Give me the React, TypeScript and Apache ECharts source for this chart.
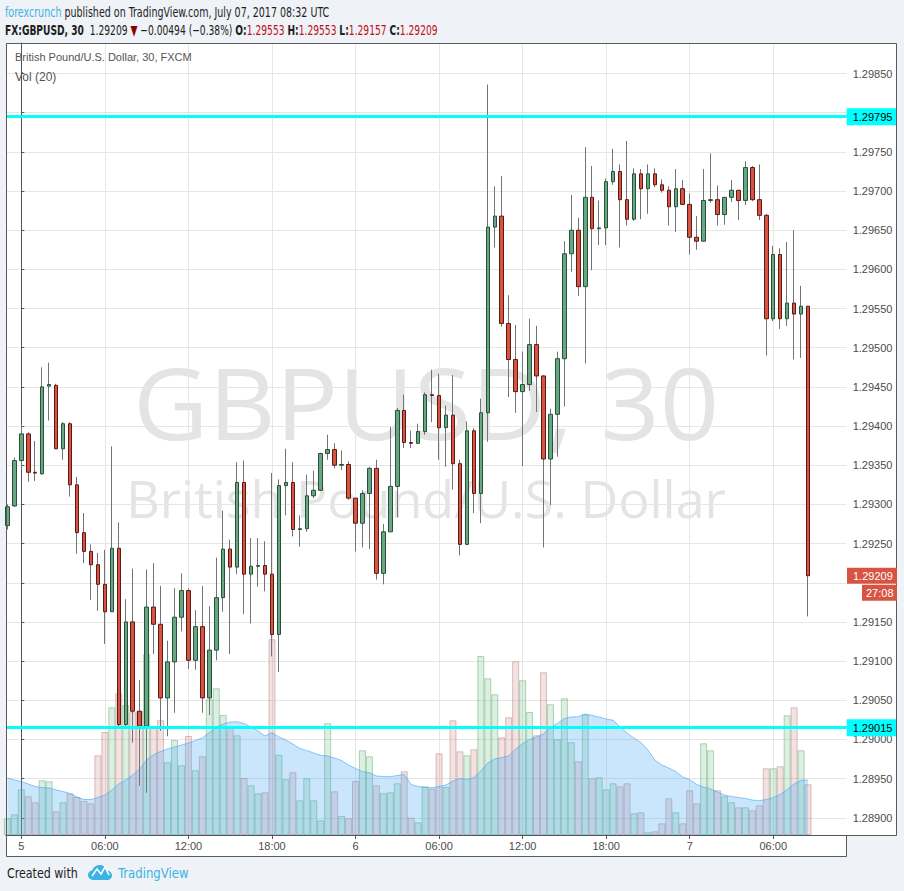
import React, { useEffect, useRef } from "react";
import * as echarts from "echarts";

// candle index: 0 = Jul 5 00:00 UTC, one step = 30 minutes
const firstIndex = -2;

const opens = [
  1.29273, 1.29298, 1.29356, 1.2939, 1.29341, 1.29339, 1.29451, 1.29452, 1.29371, 1.29403,
  1.29325, 1.29264, 1.2924, 1.29223, 1.29198, 1.29163, 1.29244, 1.29019, 1.2915, 1.29036,
  1.29017, 1.29169, 1.29147, 1.29053, 1.29099, 1.29156, 1.2919, 1.29101, 1.29144, 1.29053,
  1.29114, 1.29181, 1.29243, 1.2922, 1.29328, 1.29211, 1.29221, 1.29222, 1.29211, 1.29134,
  1.29324, 1.29328, 1.29268, 1.29269, 1.29311, 1.29318, 1.29365, 1.2937, 1.2935, 1.29351,
  1.29308, 1.29276, 1.29314, 1.29346, 1.29212, 1.29265, 1.29323, 1.2942, 1.29379, 1.29378,
  1.29393, 1.2944, 1.29439, 1.29398, 1.29414, 1.29352, 1.29249, 1.29394, 1.29314, 1.29417,
  1.29654, 1.29668, 1.29531, 1.29485, 1.29444, 1.29453, 1.29504, 1.29464, 1.29358, 1.29415,
  1.29486, 1.2962, 1.2965, 1.29578, 1.29692, 1.29652, 1.29653, 1.29712, 1.29725, 1.29689,
  1.29664, 1.29722, 1.29703, 1.29722, 1.29708, 1.29701, 1.2968, 1.29703, 1.29683, 1.29641,
  1.29636, 1.29688, 1.29689, 1.2967, 1.29692, 1.29701, 1.29688, 1.2973, 1.29689, 1.29669,
  1.29537, 1.29619, 1.29537, 1.29557, 1.29543, 1.29553,
];
const highs = [
  1.293, 1.2936, 1.29402, 1.29392, 1.29381, 1.29475, 1.29481, 1.29454, 1.29405, 1.29405,
  1.29335, 1.29289, 1.29249, 1.29238, 1.29242, 1.29374, 1.29277, 1.29179, 1.29218, 1.29076,
  1.29217, 1.29225, 1.29196, 1.29126, 1.29193, 1.29212, 1.29193, 1.29165, 1.29196, 1.2917,
  1.29232, 1.29292, 1.29255, 1.29354, 1.29356, 1.29257, 1.29257, 1.29253, 1.2934, 1.29332,
  1.29371, 1.29354, 1.29286, 1.29338, 1.29343, 1.29366, 1.29389, 1.29378, 1.29369, 1.29355,
  1.29308, 1.29318, 1.29348, 1.29357, 1.29275, 1.29399, 1.29423, 1.2944, 1.29394, 1.29403,
  1.29443, 1.29472, 1.29467, 1.29426, 1.29465, 1.29357, 1.29406, 1.29397, 1.29435, 1.29836,
  1.29706, 1.29719, 1.29567, 1.29529, 1.29495, 1.29537, 1.29528, 1.29465, 1.29422, 1.29495,
  1.29636, 1.29695, 1.29666, 1.29756, 1.29732, 1.29688, 1.29716, 1.29754, 1.29734, 1.29764,
  1.29729, 1.29728, 1.29734, 1.29729, 1.29715, 1.29706, 1.29728, 1.29714, 1.29697, 1.29668,
  1.29728, 1.29748, 1.29707, 1.29692, 1.29714, 1.29701, 1.29738, 1.29732, 1.29734, 1.29671,
  1.2963, 1.29627, 1.29635, 1.2965, 1.29579, 1.29553,
];
const lows = [
  1.29268, 1.29297, 1.29344, 1.29329, 1.2933, 1.29338, 1.29407, 1.29371, 1.29357, 1.2931,
  1.29237, 1.29225, 1.29178, 1.29164, 1.29122, 1.29163, 1.29016, 1.29017, 1.28996, 1.28941,
  1.28932, 1.29109, 1.29011, 1.29004, 1.29034, 1.29138, 1.2909, 1.29089, 1.29034, 1.29031,
  1.29101, 1.29163, 1.29109, 1.29211, 1.2916, 1.29148, 1.29195, 1.29189, 1.29106, 1.29086,
  1.29286, 1.29259, 1.29246, 1.29265, 1.29308, 1.29317, 1.29357, 1.29346, 1.29344, 1.29306,
  1.2924, 1.29245, 1.29243, 1.29204, 1.29198, 1.29265, 1.29284, 1.29372, 1.29372, 1.29377,
  1.29389, 1.29405, 1.29357, 1.29348, 1.29319, 1.29235, 1.29249, 1.29289, 1.29276, 1.2938,
  1.29628, 1.29527, 1.29437, 1.29417, 1.29349, 1.29445, 1.29418, 1.29245, 1.29299, 1.29361,
  1.29425, 1.29597, 1.29566, 1.2948, 1.29599, 1.29631, 1.29631, 1.29708, 1.29628, 1.29656,
  1.29662, 1.29664, 1.29671, 1.29705, 1.29698, 1.29656, 1.29648, 1.29683, 1.29619, 1.29625,
  1.29636, 1.29685, 1.29656, 1.29657, 1.29686, 1.29663, 1.29682, 1.29687, 1.29663, 1.2949,
  1.29534, 1.29524, 1.29528, 1.29485, 1.29487, 1.29157,
];
const closes = [
  1.29297, 1.29356, 1.2939, 1.29341, 1.2934, 1.2945, 1.29453, 1.29371, 1.29403, 1.29325,
  1.29264, 1.2924, 1.29223, 1.29198, 1.29163, 1.29244, 1.29019, 1.2915, 1.29036, 1.29017,
  1.29169, 1.29147, 1.29053, 1.29099, 1.29156, 1.2919, 1.29101, 1.29144, 1.29053, 1.29114,
  1.29181, 1.29243, 1.2922, 1.29328, 1.29211, 1.29221, 1.29222, 1.29211, 1.29134, 1.29324,
  1.29328, 1.29268, 1.29269, 1.29311, 1.29318, 1.29365, 1.2937, 1.2935, 1.29351, 1.29308,
  1.29276, 1.29314, 1.29346, 1.29212, 1.29265, 1.29323, 1.2942, 1.29379, 1.29378, 1.29393,
  1.2944, 1.29439, 1.29398, 1.29414, 1.29352, 1.29249, 1.29394, 1.29314, 1.29417, 1.29654,
  1.29668, 1.29531, 1.29485, 1.29444, 1.29453, 1.29504, 1.29464, 1.29358, 1.29415, 1.29486,
  1.2962, 1.2965, 1.29578, 1.29692, 1.29652, 1.29653, 1.29712, 1.29725, 1.29689, 1.29664,
  1.29722, 1.29703, 1.29722, 1.29708, 1.29701, 1.2968, 1.29703, 1.29683, 1.29641, 1.29636,
  1.29688, 1.29689, 1.2967, 1.29692, 1.29701, 1.29688, 1.2973, 1.29689, 1.29669, 1.29537,
  1.29619, 1.29537, 1.29557, 1.29543, 1.29553, 1.29209,
];
// volume (chart units) and its 20-period average
const volumes = [
  16.7, 20.7, 45.7, 38.7, 32.7, 54.7, 53.7, 23.7, 32.7, 41.7,
  38, 34, 31.7, 79.7, 103, 127.7, 141.7, 130, 122.7, 124,
  180.7, 108.7, 114.7, 72.7, 95, 69.7, 99, 64.7, 78.7, 135.7,
  146.7, 120, 108, 99.7, 57, 49.7, 41.7, 42.7, 195.7, 80.3,
  55.7, 62.7, 34.7, 56.7, 34.7, 14.7, 111.7, 43.7, 19, 16.7,
  54, 84.7, 78.7, 49.7, 41.7, 42.7, 51.7, 63.7, 17.3, 12.7,
  48.7, 46.3, 81.7, 48, 114.7, 83.7, 79.7, 85.7, 179, 156.7,
  140.7, 97.7, 117.7, 173.7, 154.7, 123, 99.7, 162.7, 130.7, 95.7,
  136.7, 92.7, 73.7, 120.7, 56.7, 57.7, 45.7, 51.7, 48.7, 51.7,
  21.7, 22.7, 2.7, 3.7, 11.7, 36.7, 22.7, 11.7, 44.7, 31.7,
  91.7, 84.7, 44.7, 38.7, 32.7, 27.7, 27.7, 24.7, 29.7, 66.7,
  66.7, 68.7, 119.7, 127.7, 84.7, 50.7,
];
const volumeMA = [
  57, 55, 53.5, 51, 48.5, 47.5, 47, 45, 43.5, 41.5,
  38, 35.5, 35.5, 37.5, 40, 45, 51, 55, 60, 66,
  75, 80.5, 83.5, 86, 88, 90, 92, 94.5, 97, 102.5,
  108, 111, 113, 113.3, 111.5, 108, 104, 99, 102.3, 98,
  95, 91, 86.5, 84.5, 82, 79.7, 79, 77, 74.5, 70,
  66.5, 63.5, 62.3, 59, 58.5, 58.3, 59.5, 60.5, 50.5, 48.5,
  47.5, 47.3, 48.5, 50, 54, 56.5, 55.5, 57.5, 64, 72,
  76, 77.5, 79, 86, 91.5, 95.5, 98, 101, 107.5, 111.5,
  116.5, 118, 118.3, 121, 119.5, 118, 116, 114.7, 108, 102,
  97, 92.5, 85, 75, 70, 67, 63.5, 58, 55.5, 50.5,
  48, 46, 43, 40, 38.5, 37.5, 36.5, 35, 34.3, 35.5,
  37.3, 40.7, 45.5, 51, 54.7, 55,
];

const xTickValues = [0, 12, 24, 36, 48, 60, 72, 84, 96, 108];
const xTickLabels = ["5", "06:00", "12:00", "18:00", "6", "06:00", "12:00", "18:00", "7", "06:00"];
const yTickValues = [
  1.289, 1.2895, 1.29, 1.2905, 1.291, 1.2915, 1.292, 1.2925, 1.293, 1.2935,
  1.294, 1.2945, 1.295, 1.2955, 1.296, 1.2965, 1.297, 1.2975, 1.298, 1.2985,
];
const yLabelValues = [
  1.289, 1.2895, 1.29, 1.2905, 1.291, 1.2915, 1.2925, 1.293, 1.2935,
  1.294, 1.2945, 1.295, 1.2955, 1.296, 1.2965, 1.297, 1.2975, 1.2985,
];
const levelLines = [1.29795, 1.29015];
const lastClose = 1.29209;
const countdown = "27:08";

const cloudPath =
  "M6 15 C2.7 15 0 12.8 0 10 C0 7.6 1.9 5.6 4.4 5.2 C5.4 2.2 8.3 0 11.8 0 C15.4 0 18.4 2.4 19.2 5.6 C21.9 5.9 24 8 24 10.5 C24 13 21.8 15 19 15 Z";
echarts.graphic.registerShape("tvcloud", echarts.graphic.extendPath(cloudPath, {}));

const NARROW = "'Liberation Sans Narrow', 'DejaVu Sans Condensed', sans-serif";
const SANS = "'Liberation Sans', Arial, sans-serif";
const WM = "'Open Sans', 'Liberation Sans', sans-serif";

function buildGraphic(yPx: number | null): any[] {
  const g: any[] = [
    { id: "bg1", type: "rect", z: -10, shape: { x: 6, y: 43, width: 891, height: 792 }, style: { fill: "#ffffff" } },
    { id: "bg2", type: "rect", z: -10, shape: { x: 6, y: 835, width: 841, height: 22 }, style: { fill: "#ffffff" } },
    {
      id: "wm1", type: "text", z: -5, x: 426, y: 402, scaleX: 1.05,
      style: {
        text: "GBPUSD, 30", fontSize: 99, lineHeight: 84, fontFamily: WM, fill: "#e4e4e4",
        align: "center", verticalAlign: "middle",
      },
    },
    {
      id: "wm2", type: "text", z: -5, x: 426, y: 497,
      style: {
        text: "British Pound/U.S. Dollar", fontSize: 52, lineHeight: 50, fontFamily: WM, fill: "#e4e4e4",
        align: "center", verticalAlign: "middle",
      },
    },
    {
      id: "frame", type: "polyline", z: 50,
      shape: { points: [[6.5, 43.5], [896.5, 43.5], [896.5, 835.5], [846.5, 835.5], [846.5, 856.5], [6.5, 856.5], [6.5, 43.5]] },
      style: { stroke: "#5a5a5a", lineWidth: 1, fill: null },
    },
    {
      id: "leg1", type: "text", z: 20, x: 15, y: 57,
      style: { text: "British Pound/U.S. Dollar, 30, FXCM", fontSize: 11, fontFamily: SANS, fill: "#555555", verticalAlign: "middle" },
    },
    {
      id: "leg2", type: "text", z: 20, x: 15, y: 77,
      style: { text: "Vol (20)", fontSize: 12, fontFamily: SANS, fill: "#555555", verticalAlign: "middle" },
    },
    {
      id: "hdr1", type: "text", z: 20, x: 5, y: 12, scaleX: 0.756,
      style: {
        text: "{a|forexcrunch} published on TradingView.com, July 07, 2017 08:32 UTC",
        fontSize: 14, fontFamily: NARROW, fill: "#1e1e1e", verticalAlign: "middle",
        rich: { a: { fill: "#3bb3e4", fontSize: 14, fontFamily: NARROW } },
      },
    },
    {
      id: "hdr2", type: "text", z: 20, x: 5, y: 30, scaleX: 0.725,
      style: {
        text: "{b|FX:GBPUSD, 30}  1.29209 {t|▼} −0.00494 (−0.38%) {b|O:}{r|1.29553} {b|H:}{r|1.29553} {b|L:}{r|1.29157} {b|C:}{r|1.29209}",
        fontSize: 14, fontFamily: NARROW, fill: "#1e1e1e", verticalAlign: "middle",
        rich: {
          b: { fontWeight: "bold", fill: "#1e1e1e", fontSize: 14, fontFamily: NARROW },
          r: { fill: "#c0111b", fontSize: 14, fontFamily: NARROW },
          t: { fill: "#8b0000", fontSize: 14, fontFamily: NARROW },
        },
      },
    },
    {
      id: "ft1", type: "text", z: 20, x: 7, y: 873, scaleX: 0.88,
      style: { text: "Created with", fontSize: 14, fontFamily: NARROW, fill: "#1e1e1e", verticalAlign: "middle" },
    },
    { id: "logo", type: "tvcloud", z: 20, x: 88, y: 865, style: { fill: "#3bb3e4" } },
    {
      id: "logoLine", type: "polyline", z: 21,
      shape: { points: [[92, 876], [97, 869], [101, 874], [105, 867], [109, 875]] },
      style: { stroke: "#ffffff", lineWidth: 1.6, fill: null },
    },
    {
      id: "ft2", type: "text", z: 20, x: 118, y: 873, scaleX: 0.93,
      style: { text: "TradingView", fontSize: 14, fontFamily: NARROW, fill: "#3bb3e4", verticalAlign: "middle" },
    },
  ];
  if (yPx != null) {
    g.push(
      { id: "pb1", type: "rect", z: 60, shape: { x: 847, y: yPx - 8, width: 50, height: 16 }, style: { fill: "#d75442" } },
      {
        id: "pt1", type: "text", z: 61, x: 853, y: yPx,
        style: { text: lastClose.toFixed(5), fontSize: 11, lineHeight: 12, fontFamily: SANS, fill: "#ffffff", verticalAlign: "middle" },
      },
      { id: "pb2", type: "rect", z: 60, shape: { x: 862, y: yPx + 9, width: 35, height: 16 }, style: { fill: "#d75442" } },
      {
        id: "pt2", type: "text", z: 61, x: 866, y: yPx + 17,
        style: { text: countdown, fontSize: 11, lineHeight: 12, fontFamily: SANS, fill: "#ffffff", verticalAlign: "middle" },
      }
    );
  }
  return g;
}

export default function App() {
  const ref = useRef<HTMLDivElement>(null);
  useEffect(() => {
    document.body.style.margin = "0";
    const chart = echarts.init(ref.current as HTMLDivElement, undefined, { renderer: "svg" });
    const wickData = opens.map((o, k) => [firstIndex + k, o, closes[k], lows[k], highs[k]]);
    const bodyData = opens.map((o, k) => [
      firstIndex + k, o, closes[k], Math.min(o, closes[k]), Math.max(o, closes[k]),
    ]);
    const volData = volumes.map((v, k) => {
      const up = closes[k] >= opens[k];
      return {
        value: [firstIndex + k, v],
        itemStyle: up
          ? { color: "rgba(100,180,120,0.22)", borderColor: "rgba(100,175,120,0.5)", borderWidth: 1 }
          : { color: "rgba(190,110,110,0.2)", borderColor: "rgba(185,120,120,0.45)", borderWidth: 1 },
      };
    });
    const maData = volumeMA.map((v, k) => [firstIndex + k, v]);

    const option: any = {
      animation: false,
      backgroundColor: "#eff2f6",
      grid: { left: 6, right: 57.3, top: 43, bottom: 56, containLabel: false },
      xAxis: {
        type: "value",
        min: -2.2,
        max: 118.55,
        axisLine: { show: true, onZero: false, lineStyle: { color: "#555555", width: 1 } },
        axisTick: { show: true, customValues: xTickValues, length: 4, lineStyle: { color: "#555555" } },
        axisLabel: {
          customValues: xTickValues,
          formatter: (v: number) => xTickLabels[xTickValues.indexOf(v)] ?? "",
          color: "#4c4c4c",
          fontSize: 11,
          fontFamily: SANS,
          margin: 5,
        },
        splitLine: { show: true, lineStyle: { color: "#e6e6e6", width: 1 } },
      },
      yAxis: [
        {
          type: "value",
          position: "right",
          min: 1.28878,
          max: 1.29889,
          axisLine: { show: true, lineStyle: { color: "#555555", width: 1 } },
          axisTick: { show: true, customValues: yTickValues, length: 3, lineStyle: { color: "#555555" } },
          axisLabel: {
            customValues: yLabelValues,
            formatter: (v: number) => v.toFixed(5),
            color: "#4c4c4c",
            fontSize: 11,
            lineHeight: 12,
            fontFamily: SANS,
            margin: 6,
          },
          splitLine: { show: true, lineStyle: { color: "#e6e6e6", width: 1 } },
        },
        { type: "value", min: 0, max: 792, show: false },
      ],
      series: [
        {
          name: "Volume",
          type: "bar",
          xAxisIndex: 0,
          yAxisIndex: 1,
          barWidth: 7,
          data: volData,
          z: 1,
          silent: true,
        },
        {
          name: "Vol MA",
          type: "line",
          xAxisIndex: 0,
          yAxisIndex: 1,
          data: maData,
          showSymbol: false,
          symbol: "none",
          lineStyle: { color: "rgba(70,165,240,0.6)", width: 1 },
          areaStyle: { color: "rgba(65,167,245,0.4)", origin: "start" },
          z: 2,
          silent: true,
        },
        {
          name: "Wicks",
          type: "candlestick",
          xAxisIndex: 0,
          yAxisIndex: 0,
          barWidth: 1,
          data: wickData,
          itemStyle: { color: "#737375", color0: "#737375", borderColor: "#737375", borderColor0: "#737375", borderWidth: 1 },
          z: 3,
          silent: true,
        },
        {
          name: "GBPUSD",
          type: "candlestick",
          xAxisIndex: 0,
          yAxisIndex: 0,
          barWidth: 4,
          data: bodyData,
          itemStyle: { color: "#6ba583", color0: "#d75442", borderColor: "#225437", borderColor0: "#5b1a13", borderWidth: 1 },
          z: 4,
          silent: true,
          markLine: {
            silent: true,
            symbol: "none",
            precision: 5,
            animation: false,
            lineStyle: { color: "#00ffff", width: 3, type: "solid" },
            label: {
              show: true,
              position: "end",
              distance: 0,
              formatter: (p: any) => Number(p.value).toFixed(5),
              color: "#000000",
              backgroundColor: "#00ffff",
              padding: [3, 4, 2, 6],
              fontSize: 11,
              lineHeight: 12,
              fontFamily: SANS,
            },
            data: levelLines.map((v) => ({ yAxis: v })),
          },
        },
      ],
      graphic: buildGraphic(null),
    };
    chart.setOption(option);
    const yPx = chart.convertToPixel({ yAxisIndex: 0 }, lastClose) as number;
    chart.setOption({ graphic: buildGraphic(yPx) });
    return () => chart.dispose();
  }, []);
  return <div ref={ref} style={{ position: "absolute", left: 0, top: 0, width: 904, height: 891 }} />;
}
